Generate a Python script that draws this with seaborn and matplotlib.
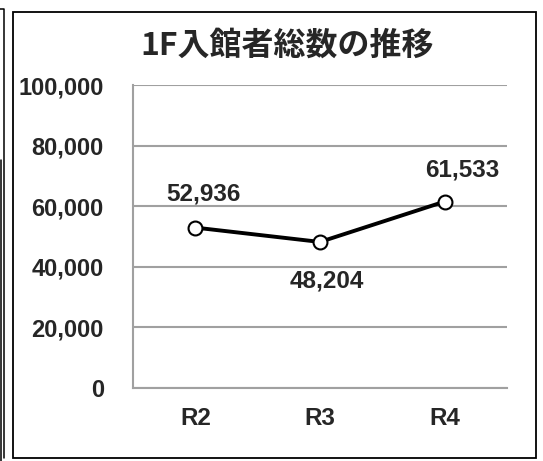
import matplotlib
matplotlib.use("Agg")
import matplotlib.pyplot as plt
from matplotlib.patches import Rectangle
from matplotlib.lines import Line2D
from matplotlib.ticker import FuncFormatter
import seaborn as sns

# data
years = ["R2", "R3", "R4"]
visitors = [52936, 48204, 61533]
y_ticks = [0, 20000, 40000, 60000, 80000, 100000]
title = "1F入館者総数の推移"

sns.set_style("white")
plt.rcParams["font.family"] = ["Liberation Sans", "Noto Sans CJK JP", "DejaVu Sans"]

W, H = 543, 461
fig = plt.figure(figsize=(W / 100, H / 100), dpi=100)
ax = fig.add_axes([133 / W, 1 - 388 / H, (507 - 133) / W, (388 - 85) / H])

sns.lineplot(x=years, y=visitors, ax=ax, color="black", lw=2.8,
             marker="o", markersize=10, markerfacecolor="white",
             markeredgecolor="black", markeredgewidth=1.5, zorder=3)

ax.set_xlim(-0.5, 2.5)
ax.set_ylim(0, 100000)
ax.set_yticks(y_ticks)
ax.yaxis.set_major_formatter(FuncFormatter(lambda v, p: f"{int(v):,}"))
ax.grid(axis="y", color="#a0a0a0", lw=1.5)
ax.grid(axis="x", visible=False)
for side in ["top", "right"]:
    ax.spines[side].set_visible(False)
for side in ["left", "bottom"]:
    ax.spines[side].set_color("#a0a0a0")
    ax.spines[side].set_linewidth(1.5)
ax.tick_params(axis="y", length=0, pad=21, labelsize=17)
ax.tick_params(axis="x", length=0, pad=14, labelsize=17.5)
for lbl in ax.get_xticklabels() + ax.get_yticklabels():
    lbl.set_fontweight("bold")
ax.set_xlabel("")
ax.set_ylabel("")

# data labels, nudged like the original
offsets = [(6, 24), (5, -28), (13, 23)]
for i, (v, off) in enumerate(zip(visitors, offsets)):
    ax.annotate(f"{v:,}", (i, v), xytext=off, textcoords="offset points",
                ha="center", va="center", fontsize=17.5, fontweight="bold")

fig.text(287 / W, 1 - 46 / H, title, ha="center", va="center",
         fontsize=23, fontweight="bold",
         family=["Noto Sans CJK JP", "DejaVu Sans"])

# chart frame and the edge of the neighbouring box
fig.patches.append(Rectangle((12.5 / W, 1 - 457.5 / H), (536 - 12.5) / W, (457.5 - 12.5) / H,
                             transform=fig.transFigure, fill=False,
                             edgecolor="black", lw=1.3))
fig.lines.append(Line2D([0, 4 / W, 4 / W], [1 - 9 / H, 1 - 9 / H, 1 - 458 / H],
                        transform=fig.transFigure, color="black", lw=1.1))
fig.lines.append(Line2D([1.2 / W, 1.2 / W], [1 - 160 / H, 0],
                        transform=fig.transFigure, color="black", lw=1.1))

fig.savefig("out.png", dpi=100)
